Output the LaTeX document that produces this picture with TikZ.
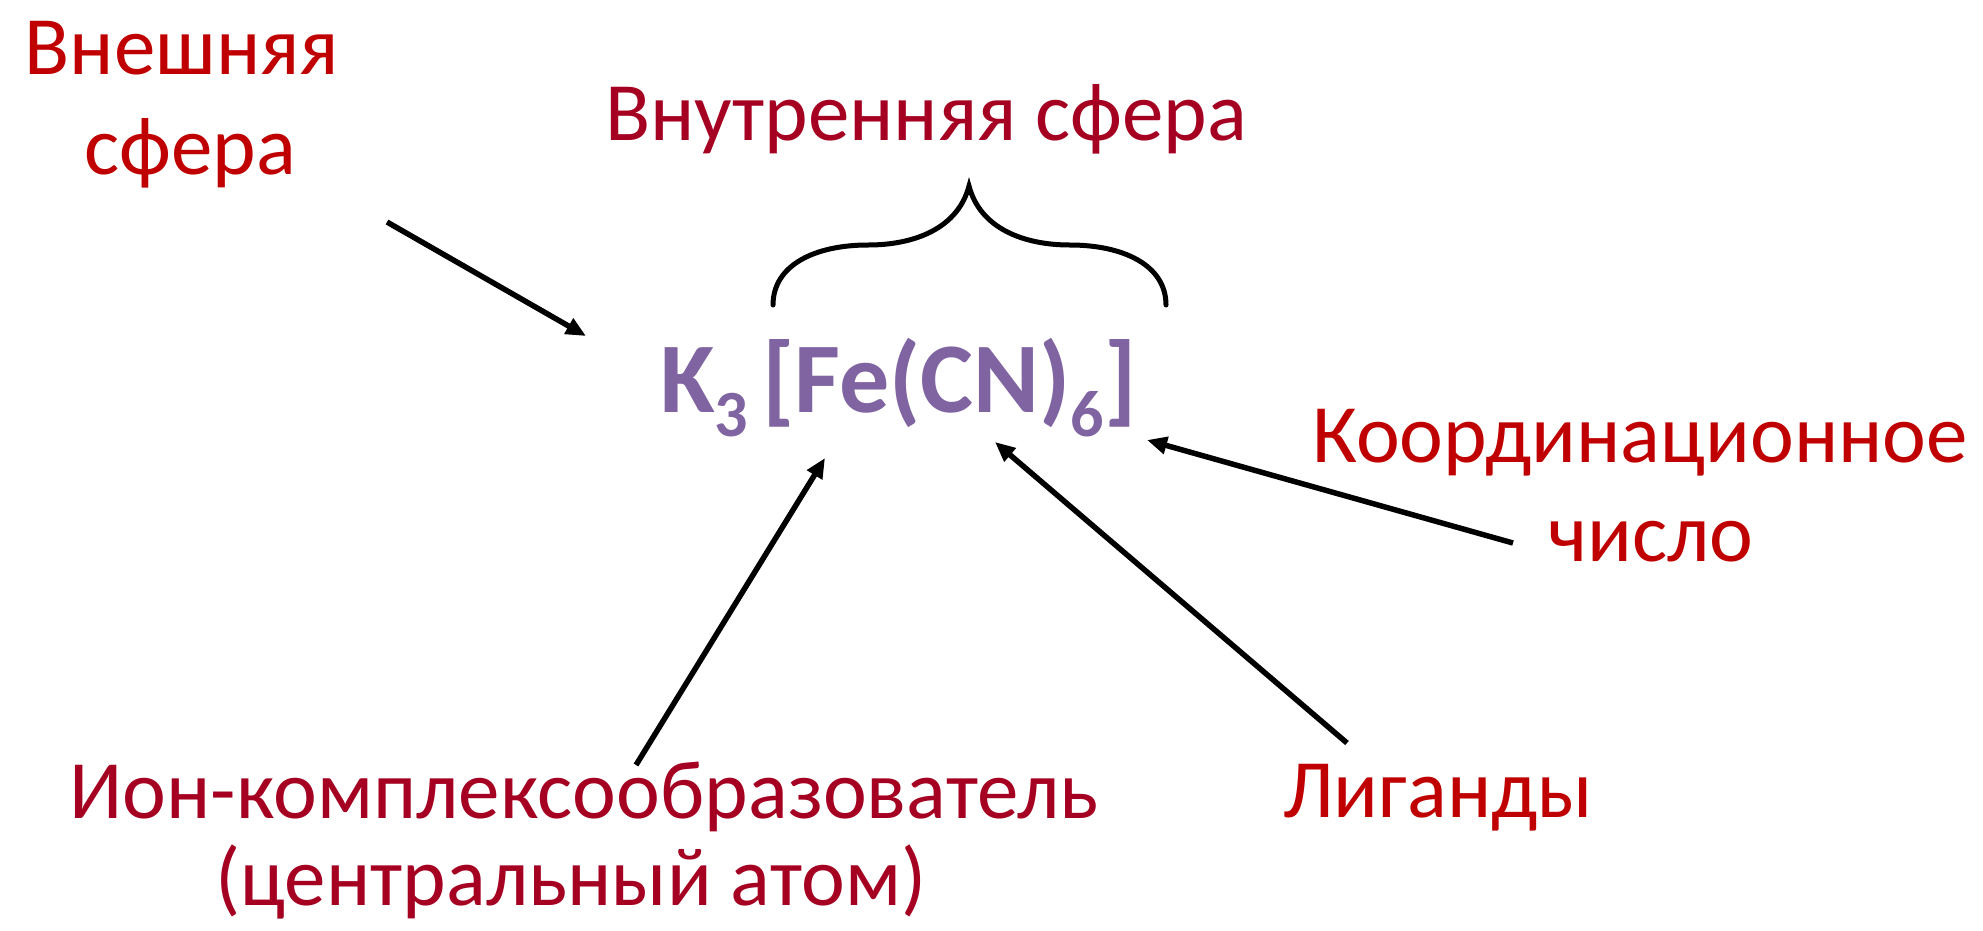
\documentclass[tikz,border=0pt]{standalone}
\usepackage{fontspec}
\setmainfont{Carlito}
\usetikzlibrary{arrows.meta}
\definecolor{redA}{HTML}{C00000}
\definecolor{redB}{HTML}{A50021}
\definecolor{formula}{HTML}{8064A2}
\tikzset{
  lbl/.style={inner sep=0pt, anchor=base, font=\fontsize{83}{100}\selectfont},
  conn/.style={line width=5.5pt, -{Triangle[length=20pt,width=17pt]}},
  bracestyle/.style={line width=5pt, line cap=round}
}
\begin{document}
\begin{tikzpicture}[x=1pt,y=-1pt]
\useasboundingbox (0,0) rectangle (1983,930);
\fill[white] (0,0) rectangle (1983,930);
% labels
\node[lbl, text=redA] (outer1) at (182,74) {Внешняя};
\node[lbl, text=redA] (outer2) at (190,174) {сфера};
\node[lbl, text=redB, anchor=base west] (inner) at (605,140) {Внутренняя сфера};
\node[lbl, text=redA] (coord1) at (1640,462) {Координационное};
\node[lbl, text=redA] (coord2) at (1651,561) {число};
\node[lbl, text=redA] (lig) at (1438,817) {Лиганды};
\node[lbl, text=redB] (ion1) at (584,818) {Ион-комплексообразователь};
\node[lbl, text=redB] (ion2) at (571,905) {(центральный атом)};
% formula
\node[inner sep=0pt, anchor=base west, text=formula, font=\fontsize{100}{100}\selectfont\bfseries] (f) at (660,412)
  {K\raisebox{-24pt}{\fontsize{66}{66}\selectfont 3}\hspace{14pt}[Fe(CN)\raisebox{-24pt}{\fontsize{66}{66}\selectfont 6}]};
% endpoints
\coordinate (a1s) at (387,222);
\coordinate (a1e) at (586,336);
\coordinate (a2s) at (636,765);
\coordinate (a2e) at (825,458);
\coordinate (a3s) at (1347,743);
\coordinate (a3e) at (995,442);
\coordinate (a4s) at (1513,543);
\coordinate (a4e) at (1147,440);
\draw[conn] (a1s) -- (a1e);
\draw[conn] (a2s) -- (a2e);
\draw[conn] (a3s) -- (a3e);
\draw[conn] (a4s) -- (a4e);
% brace
\coordinate (bl) at (773,305);
\coordinate (bt) at (969,186);
\coordinate (br) at (1166,305);
\draw[bracestyle] (bl) .. controls (773,265) and (815,245) .. (868,245)
  .. controls (915,245) and (958,228) .. (bt)
  .. controls (980,228) and (1023,245) .. (1070,245)
  .. controls (1123,245) and (1166,265) .. (br);
\end{tikzpicture}
\end{document}
